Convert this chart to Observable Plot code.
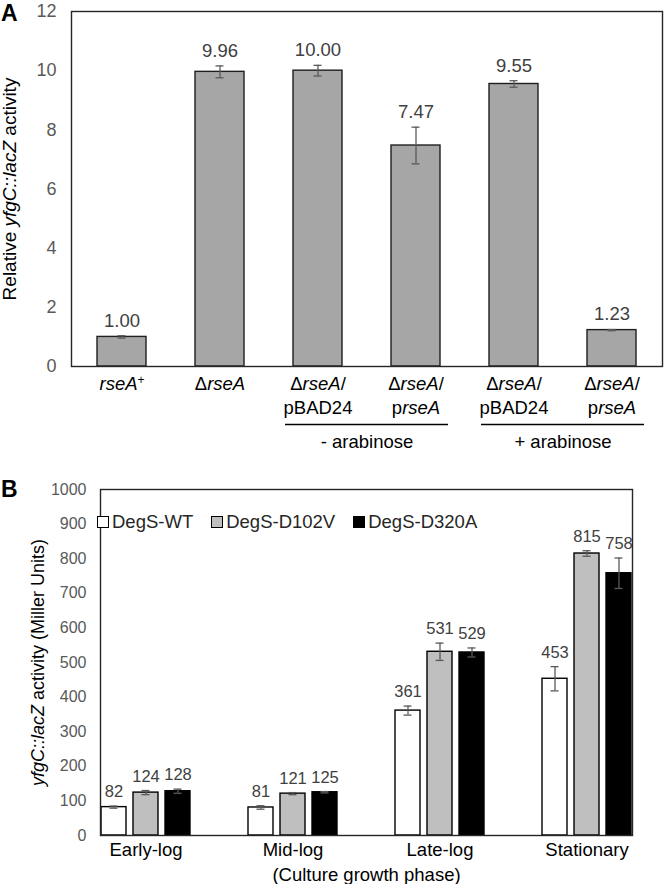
<!DOCTYPE html>
<html><head><meta charset="utf-8">
<script src="https://cdn.jsdelivr.net/npm/d3@7"></script>
<script src="https://cdn.jsdelivr.net/npm/@observablehq/plot@0.6"></script>
<style>
body{margin:0;background:#fff;font-family:"Liberation Sans",Arial,sans-serif;}
#wrap{position:relative;width:665px;height:884px;overflow:hidden;}
.panel{position:relative;}
.panel svg{display:block;}
.plabel{position:absolute;left:1px;font-weight:bold;font-size:23px;color:#000;line-height:1.1;}
.legend{position:absolute;display:flex;gap:18px;font-size:18.5px;color:#262626;align-items:center;}
.legend .item{display:flex;align-items:center;}
.legend .sw{width:10px;height:10px;border:1px solid #000;margin-right:3px;}
</style></head><body><div id="wrap"></div><script>
// ---- Panel A data ----
const strainLabels = ["_rseA_^+^", "Δ_rseA_", "Δ_rseA_/\npBAD24", "Δ_rseA_/\np_rseA_", "Δ_rseA_/\npBAD24", "Δ_rseA_/\np_rseA_"];
const activityA = [1.00, 9.96, 10.00, 7.47, 9.55, 1.23];
const errorA = [0.04, 0.20, 0.18, 0.62, 0.11, 0.02];
const yTicksA = [0, 2, 4, 6, 8, 10, 12];
const groupLabels = ["- arabinose", "+ arabinose"];
const groupFirst = [2, 4];
const groupLast = [3, 5];

// ---- Panel B data ----
const phases = ["Early-log", "Mid-log", "Late-log", "Stationary"];
const strainsB = ["DegS-WT", "DegS-D102V", "DegS-D320A"];
const millerWT = [82, 81, 361, 453];
const millerD102V = [124, 121, 531, 815];
const millerD320A = [128, 125, 529, 758];
const errWT = [3, 5, 13, 35];
const errD102V = [6, 3, 25, 8];
const errD320A = [6, 2, 13, 44];
const yTicksB = [0, 100, 200, 300, 400, 500, 600, 700, 800, 900, 1000];
const strainColors = ["#ffffff", "#bfbfbf", "#000000"];

const FONT = "Liberation Sans, Arial, sans-serif";
const SVGNS = "http://www.w3.org/2000/svg";

function richify(root) {
  root.querySelectorAll("text, tspan").forEach(el => {
    if (el.children.length) return;
    const s = el.textContent;
    if (!/[_^]/.test(s)) return;
    el.textContent = "";
    const parts = s.split(/(_[^_]*_|\^[^^]*\^)/);
    for (const p of parts) {
      if (!p) continue;
      const t = document.createElementNS(SVGNS, "tspan");
      if (p.length > 1 && p[0] === "_" && p[p.length - 1] === "_") {
        t.setAttribute("font-style", "italic");
        t.textContent = p.slice(1, -1);
      } else if (p.length > 1 && p[0] === "^" && p[p.length - 1] === "^") {
        t.setAttribute("dy", "-0.45em");
        t.setAttribute("font-size", "65%");
        t.textContent = p.slice(1, -1);
      } else {
        t.textContent = p;
      }
      el.appendChild(t);
    }
  });
}

const wrap = document.getElementById("wrap");

// ---------- Panel A ----------
const rowsA = activityA.map((v, i) => ({i, value: v, err: errorA[i]}));
const groupsA = groupLabels.map((label, k) => ({label, first: groupFirst[k], last: groupLast[k]}));

const chartA = Plot.plot({
  width: 665, height: 455,
  marginTop: 11, marginBottom: 89, marginLeft: 71, marginRight: 3,
  style: {fontFamily: FONT, fontSize: "17px", background: "#fff"},
  x: {domain: d3.range(strainLabels.length), paddingInner: 0.5, paddingOuter: 0.25},
  y: {domain: [0, 12]},
  marks: [
    Plot.barY(rowsA, {x: "i", y: "value", fill: "#a6a6a6", stroke: "#1f1f1f", strokeWidth: 1.4}),
    Plot.ruleX(rowsA, {x: "i", y1: d => d.value - d.err, y2: d => d.value + d.err, stroke: "#595959", strokeWidth: 1.3}),
    Plot.tickY(rowsA, {x: "i", y: d => d.value - d.err, stroke: "#595959", strokeWidth: 1.3, insetLeft: 20.5, insetRight: 20.5}),
    Plot.tickY(rowsA, {x: "i", y: d => d.value + d.err, stroke: "#595959", strokeWidth: 1.3, insetLeft: 20.5, insetRight: 20.5}),
    Plot.text(rowsA, {x: "i", y: d => d.value + d.err, text: d => d.value.toFixed(2), dy: -15, fontSize: 18.5, fill: "#404040"}),
    Plot.frame({stroke: "#262626", strokeWidth: 1.4}),
    Plot.axisY({ticks: yTicksA, tickSize: 0, tickPadding: 15, fontSize: 18, color: "#595959",
      label: "Relative _yfgC::lacZ_ activity", labelAnchor: "center", labelArrow: "none", labelOffset: 69}),
    Plot.axisX({tickSize: 0, tickPadding: 6, fontSize: 18.5, lineHeight: 1.32, color: "#000",
      tickFormat: i => strainLabels[i], label: null}),
    Plot.ruleY(groupsA, {x1: "first", x2: "last", y: 0, dy: 58, insetLeft: -8, insetRight: -8, stroke: "#000", strokeWidth: 1.6}),
    Plot.text(groupsA, {x: "first", y: 0, text: "label", dx: 49, dy: 76, fontSize: 18.5, fill: "#000"})
  ]
});
richify(chartA);
chartA.querySelectorAll("text").forEach(t => {
  if (t.getAttribute("transform") && /rotate/.test(t.getAttribute("transform"))) { t.setAttribute("font-size", "19"); t.setAttribute("fill", "#000"); }
});
const panelA = document.createElement("div");
panelA.className = "panel";
panelA.appendChild(chartA);
const labA = document.createElement("div");
labA.className = "plabel"; labA.textContent = "A"; labA.style.top = "1px";
panelA.appendChild(labA);
wrap.appendChild(panelA);

// ---------- Panel B ----------
const valuesB = [millerWT, millerD102V, millerD320A];
const errsB = [errWT, errD102V, errD320A];
const rowsB = phases.flatMap((p, i) => strainsB.map((s, j) => ({phase: p, strain: s, value: valuesB[j][i], err: errsB[j][i]})));

const chartB = Plot.plot({
  width: 665, height: 429,
  marginTop: 34, marginBottom: 49, marginLeft: 71, marginRight: 3,
  style: {fontFamily: FONT, fontSize: "16px", background: "#fff"},
  fx: {domain: phases, paddingInner: 0.38, paddingOuter: 0.19},
  x: {domain: strainsB, paddingInner: 0.227, paddingOuter: 0, axis: null},
  y: {domain: [0, 1000]},
  color: {domain: strainsB, range: strainColors},
  marks: [
    Plot.barY(rowsB, {fx: "phase", x: "strain", y: "value", fill: "strain", stroke: "#000", strokeWidth: 1.4}),
    Plot.ruleX(rowsB, {fx: "phase", x: "strain", y1: d => d.value - d.err, y2: d => d.value + d.err, stroke: "#595959", strokeWidth: 1.3}),
    Plot.tickY(rowsB, {fx: "phase", x: "strain", y: d => d.value - d.err, stroke: "#595959", strokeWidth: 1.3, insetLeft: 8.5, insetRight: 8.5}),
    Plot.tickY(rowsB, {fx: "phase", x: "strain", y: d => d.value + d.err, stroke: "#595959", strokeWidth: 1.3, insetLeft: 8.5, insetRight: 8.5}),
    Plot.text(rowsB, {fx: "phase", x: "strain", y: d => d.value + d.err, text: d => String(d.value), dy: -14, fontSize: 16.5, fill: "#404040"}),
    Plot.frame({facet: "super", stroke: "#262626", strokeWidth: 1.4}),
    Plot.axisY({ticks: yTicksB, tickFormat: d3.format("d"), tickSize: 0, tickPadding: 14, fontSize: 16, color: "#595959",
      label: "_yfgC::lacZ_ activity (Miller Units)", labelAnchor: "center", labelArrow: "none", labelOffset: 69}),
    Plot.axisFx({anchor: "bottom", tickSize: 0, tickPadding: 7, fontSize: 18.5, color: "#000",
      label: "(Culture growth phase)", labelAnchor: "center", labelArrow: "none", labelOffset: 45})
  ]
});
richify(chartB);
chartB.querySelectorAll("text").forEach(t => {
  if (t.getAttribute("transform") && /rotate/.test(t.getAttribute("transform"))) { t.setAttribute("font-size", "18"); t.setAttribute("fill", "#000"); }
});
const panelB = document.createElement("div");
panelB.className = "panel";
panelB.appendChild(chartB);
const labB = document.createElement("div");
labB.className = "plabel"; labB.textContent = "B"; labB.style.top = "22px";
panelB.appendChild(labB);
const legend = document.createElement("div");
legend.className = "legend";
legend.style.left = "97px"; legend.style.top = "56px";
strainsB.forEach((s, j) => {
  const it = document.createElement("div"); it.className = "item";
  const sw = document.createElement("div"); sw.className = "sw"; sw.style.background = strainColors[j];
  const tx = document.createElement("span"); tx.textContent = s;
  it.appendChild(sw); it.appendChild(tx); legend.appendChild(it);
});
panelB.appendChild(legend);
wrap.appendChild(panelB);
</script></body></html>
